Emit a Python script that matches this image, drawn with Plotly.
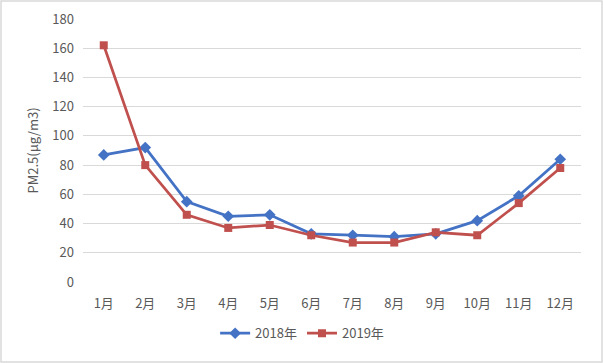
import plotly.graph_objects as go

months = ["1月", "2月", "3月", "4月", "5月", "6月", "7月", "8月", "9月", "10月", "11月", "12月"]
pm_2018 = [87, 92, 55, 45, 46, 33, 32, 31, 33, 42, 59, 84]
pm_2019 = [162, 80, 46, 37, 39, 32, 27, 27, 34, 32, 54, 78]
y_ticks = [0, 20, 40, 60, 80, 100, 120, 140, 160, 180]

W, H = 603, 363
ml, mr, mt, mb = 83, 22, 19, 81
pw, ph = W - ml - mr, H - mt - mb

font = "Noto Sans CJK SC, Noto Sans, sans-serif"

fig = go.Figure()
fig.add_trace(go.Scatter(x=months, y=pm_2018, name="2018年", mode="lines+markers",
                         line=dict(color="#4472C4", width=2.75),
                         marker=dict(symbol="diamond", size=9, color="#4472C4")))
fig.add_trace(go.Scatter(x=months, y=pm_2019, name="2019年", mode="lines+markers",
                         line=dict(color="#C0504D", width=2.75),
                         marker=dict(symbol="square", size=8, color="#C0504D")))

fig.update_layout(
    width=W, height=H,
    margin=dict(l=ml, r=mr, t=mt, b=mb, autoexpand=False),
    paper_bgcolor="white", plot_bgcolor="white",
    font=dict(family=font, size=13, color="#595959"),
    showlegend=True,
    legend=dict(orientation="h", x=0.44, xanchor="center", y=-0.195, yanchor="middle",
                font=dict(size=13, color="#595959"), traceorder="normal"),
    xaxis=dict(type="category", showgrid=False, zeroline=False, showline=False,
               ticks="", tickfont=dict(size=13, color="#595959"), range=[-0.5, 11.5],
               automargin=False, ticklabelstandoff=12),
    yaxis=dict(range=[0, 180], tickvals=y_ticks, showgrid=True, gridcolor="#D9D9D9",
               gridwidth=1, zeroline=False, showline=False, ticks="",
               tickfont=dict(size=13, color="#595959"), automargin=False,
               ticklabelstandoff=8,
               title=dict(text="PM2.5(μg/m3)", font=dict(size=13, color="#595959"), standoff=10)),
    shapes=[dict(type="rect", xref="paper", yref="paper",
                 x0=(1 - ml) / pw, x1=(W - 1 - ml) / pw,
                 y0=-(mb - 1) / ph, y1=1 + (mt - 1) / ph,
                 line=dict(color="#D9D9D9", width=1.5))],
)

fig.write_html("out.html", config={"displayModeBar": False},
               post_script="document.body.style.margin='0';")
